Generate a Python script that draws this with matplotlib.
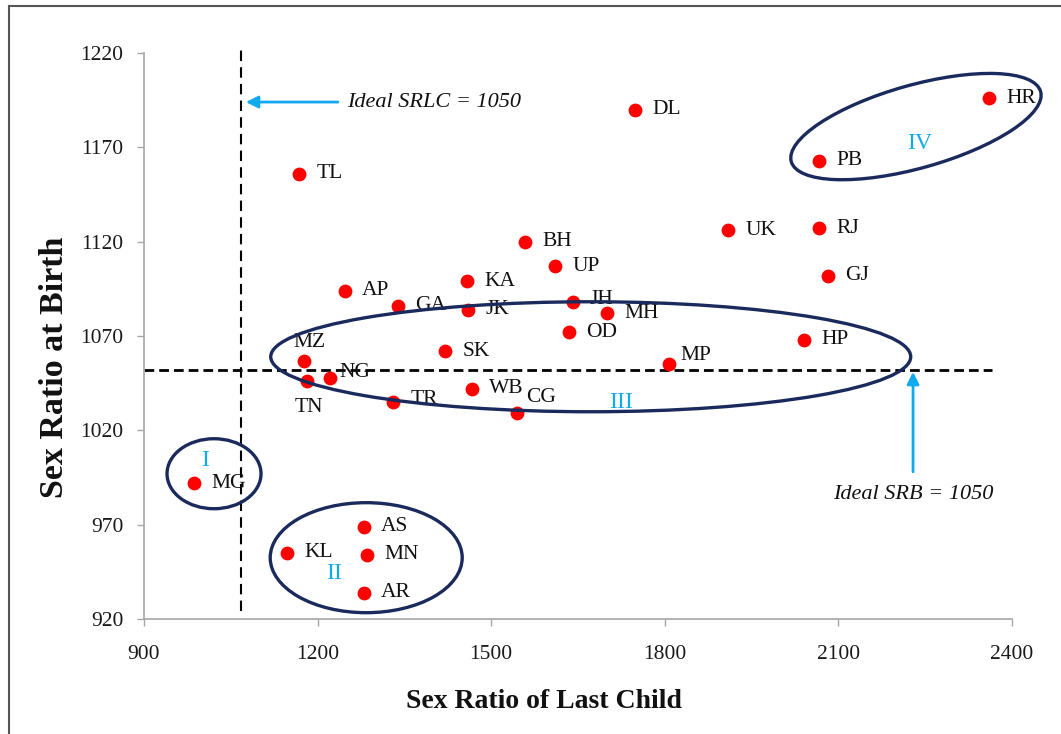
import matplotlib.pyplot as plt
from matplotlib.patches import Ellipse
from matplotlib.lines import Line2D
from matplotlib import transforms

plt.rcParams['font.family'] = ['Liberation Serif', 'DejaVu Serif']

# state codes, sex ratio of last child (x), sex ratio at birth (y)
states = ['HR', 'PB', 'DL', 'TL', 'UK', 'RJ', 'BH', 'UP', 'GJ', 'KA',
          'AP', 'GA', 'JK', 'JH', 'MH', 'OD', 'HP', 'MZ', 'SK', 'MP',
          'TN', 'NG', 'TR', 'WB', 'CG', 'MG', 'AS', 'KL', 'MN', 'AR']
srlc = [2360, 2066, 1748, 1168, 1909, 2066, 1558, 1610, 2082, 1458,
        1247, 1339, 1460, 1641, 1700, 1634, 2040, 1176, 1420, 1807,
        1182, 1221, 1330, 1467, 1545, 986, 1280, 1147, 1285, 1280]
srb = [1196, 1163, 1190, 1156, 1126, 1127, 1120, 1107, 1102, 1099,
       1094, 1086, 1084, 1088, 1082, 1072, 1068, 1057, 1062, 1055,
       1046, 1048, 1035, 1042, 1029, 992, 969, 955, 954, 934]

x_ticks = [900, 1200, 1500, 1800, 2100, 2400]
y_ticks = [920, 970, 1020, 1070, 1120, 1170, 1220]

ideal_srb_line = 1052
ideal_srlc_line = 1068

# label offsets in points (dx, dy, ha) where not the default
label_offset = {'MZ': (4, 13, 'center'), 'TN': (1.5, -19, 'center'),
                'NG': (7, 3.5, 'left'), 'MP': (8.5, 6.5, 'left'),
                'CG': (6.5, 11.5, 'left'), 'TR': (13, 1.5, 'left'),
                'JH': (12, 1.5, 'left')}

navy = '#1b2a5c'
sky = '#12aaee'

fig = plt.figure(figsize=(10.61, 7.34), dpi=100)
ax = fig.add_axes([144/1061, 1 - 619/734, 868/1061, 566/734])

ax.set_xlim(900, 2400)
ax.set_ylim(920, 1220)
ax.set_xticks(x_ticks)
ax.set_yticks(y_ticks)
for s in ['top', 'right']:
    ax.spines[s].set_visible(False)
for s in ['left', 'bottom']:
    ax.spines[s].set_color('#a6a6a6')
    ax.spines[s].set_linewidth(1.2)
ax.tick_params(direction='out', length=5, width=1, color='#a6a6a6',
               labelsize=15.5, labelcolor='#1a1a1a')
ax.tick_params(axis='y', pad=10)
ax.tick_params(axis='x', pad=14)

# ideal lines
ax.plot([900, 2365], [ideal_srb_line, ideal_srb_line], color='black',
        lw=2, ls=(0, (3.5, 1.8)))
ax.plot([ideal_srlc_line, ideal_srlc_line], [924, 1223], color='black',
        lw=1.5, ls=(0, (5, 3)), clip_on=False)

ax.scatter(srlc, srb, s=80, color='red', zorder=3)

for st, xv, yv in zip(states, srlc, srb):
    dx, dy, ha = label_offset.get(st, (12.5, 0, 'left'))
    ax.annotate(st, (xv, yv), xytext=(dx, dy), textcoords='offset points',
                ha=ha, va='center', fontsize=15.5, color='#111111', zorder=4)


def ring(cx, cy, w_px, h_px, ang=0):
    tr = fig.dpi_scale_trans + transforms.ScaledTranslation(cx, cy, ax.transData)
    e = Ellipse((0, 0), w_px / 100, h_px / 100, angle=ang, transform=tr,
                fill=False, ec=navy, lw=2.4, clip_on=False, zorder=5)
    ax.add_patch(e)


ring(1021, 997, 94, 70)
ring(1284, 952.5, 192, 110)
ring(1672, 1059, 640, 110)
ring(2234, 1181, 259, 83, 15.7)

ax.text(1005, 1004, 'I', color=sky, fontsize=17, ha='center', va='center')
ax.text(1228, 944, 'II', color=sky, fontsize=17, ha='center', va='center')
ax.text(1725, 1035, 'III', color=sky, fontsize=17, ha='center', va='center')
ax.text(2241, 1172, 'IV', color=sky, fontsize=17, ha='center', va='center')

# arrows + notes
ax.annotate('', xy=(1076, 1194), xytext=(1235, 1194),
            arrowprops=dict(arrowstyle='-|>', color=sky, lw=2,
                            mutation_scale=18, shrinkA=0, shrinkB=0))
ax.text(1251, 1194, 'Ideal SRLC = 1050', fontsize=16, style='italic',
        ha='left', va='center', color='#111111')
ax.annotate('', xy=(2229, 1051), xytext=(2229, 998),
            arrowprops=dict(arrowstyle='-|>', color=sky, lw=2,
                            mutation_scale=18, shrinkA=0, shrinkB=0))
ax.text(2229, 986, 'Ideal SRB = 1050', fontsize=16, style='italic',
        ha='center', va='center', color='#111111')

fig.text(544/1061, 1 - 702/734, 'Sex Ratio of Last Child', fontsize=20,
         fontweight='bold', ha='center', va='center', color='#111111')
fig.text(55/1061, 1 - 367/734, 'Sex Ratio at Birth', fontsize=24.5,
         fontweight='bold', rotation=90, ha='center', va='center', color='#111111')

# outer frame
fig.add_artist(Line2D([9/1061, 9/1061], [0, 1 - 6/734], transform=fig.transFigure,
                      color='#555555', lw=1.5))
fig.add_artist(Line2D([9/1061, 1], [1 - 6/734, 1 - 6/734], transform=fig.transFigure,
                      color='#555555', lw=1.5))

fig.savefig('out.png', dpi=100)
